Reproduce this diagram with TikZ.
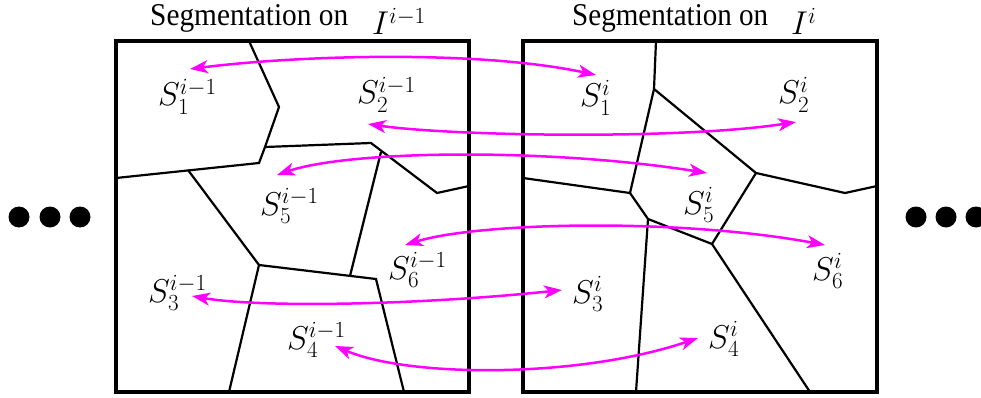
\RequirePackage{fix-cm}
\documentclass[tikz,border=0pt]{standalone}
\usepackage[no-math]{fontspec}
\setmainfont{Liberation Serif}
\usetikzlibrary{arrows.meta}
\definecolor{mag}{RGB}{255,0,255}
\tikzset{
  framebox/.style={draw=black, line width=3.2pt},
  segline/.style={draw=black, line width=2.2pt, line join=miter},
  seglabel/.style={anchor=base west, inner sep=0pt, font=\fontsize{33}{40}\selectfont},
  titletext/.style={anchor=base west, inner sep=0pt, font=\fontsize{31}{37}\selectfont},
  titlemath/.style={anchor=base west, inner sep=0pt, font=\fontsize{33}{40}\selectfont},
  magarrow/.style={draw=mag, line width=2.5pt,
    {Stealth[length=18pt,width=13pt,inset=5pt]}-{Stealth[length=18pt,width=13pt,inset=5pt]}},
  bigdot/.style={fill=black, circle, inner sep=0pt, minimum size=21pt}
}
\begin{document}
\begin{tikzpicture}[x=1pt,y=-1pt]
\useasboundingbox (0,0) rectangle (981,398);

% titles
\node[titletext] (t1) at (150,26) {\resizebox{198pt}{21pt}{Segmentation on}};
\node[titlemath] (t1m) at (372,35) {$I^{i-1}$};
\node[titletext] (t2) at (572,26) {\resizebox{196pt}{21pt}{Segmentation on}};
\node[titlemath] (t2m) at (791,35) {$I^{i}$};

% left segmentation
\draw[segline] (249,41) -- (279,107) -- (265,147) -- (259,163) -- (116,178);
\draw[segline] (265,147) -- (371,143) -- (437,193) -- (469,186);
\draw[segline] (188,170) -- (259,265);
\draw[segline] (381,152) -- (350,276);
\draw[segline] (229,392) -- (259,265) -- (376,279) -- (404,392);
\draw[framebox] (116,41) rectangle (469,392);

% right segmentation
\draw[segline] (656,41) -- (654,89) -- (630,193) -- (523,178);
\draw[segline] (654,89) -- (756,173) -- (845,193) -- (877,186);
\draw[segline] (630,193) -- (648,219) -- (712,244) -- (756,173);
\draw[segline] (648,219) -- (636,392);
\draw[segline] (712,244) -- (810,392);
\draw[framebox] (523,41) rectangle (877,392);

% labels left
\node[seglabel] (l1) at (158,106) {$S_1^{i-1}$};
\node[seglabel] (l2) at (357,104) {$S_2^{i-1}$};
\node[seglabel] (l5) at (260,215) {$S_5^{i-1}$};
\node[seglabel] (l6) at (388,279) {$S_6^{i-1}$};
\node[seglabel] (l3) at (148,302) {$S_3^{i-1}$};
\node[seglabel] (l4) at (287,349) {$S_4^{i-1}$};
% labels right
\node[seglabel] (r1) at (580,107) {$S_1^{i}$};
\node[seglabel] (r2) at (778,104) {$S_2^{i}$};
\node[seglabel] (r5) at (683,214) {$S_5^{i}$};
\node[seglabel] (r6) at (812,280) {$S_6^{i}$};
\node[seglabel] (r3) at (572,303) {$S_3^{i}$};
\node[seglabel] (r4) at (708,348) {$S_4^{i}$};

% arrow end points
\coordinate (a1l) at (190,69);  \coordinate (a1r) at (596,75);
\coordinate (a2l) at (368,124); \coordinate (a2r) at (796,122);
\coordinate (a3l) at (277,175); \coordinate (a3r) at (707,173);
\coordinate (a4l) at (405,245); \coordinate (a4r) at (825,245);
\coordinate (a5l) at (192,296); \coordinate (a5r) at (562,290);
\coordinate (a6l) at (335,346); \coordinate (a6r) at (698,338);

\draw[magarrow] (a1l) .. controls (300,55) and (480,50) .. (a1r);
\draw[magarrow] (a2l) .. controls (450,136) and (680,140) .. (a2r);
\draw[magarrow] (a3l) .. controls (350,150) and (550,148) .. (a3r);
\draw[magarrow] (a4l) .. controls (480,222) and (680,218) .. (a4r);
\draw[magarrow] (a5l) .. controls (260,308) and (420,305) .. (a5r);
\draw[magarrow] (a6l) .. controls (410,378) and (580,378) .. (a6r);

% dots
\node[bigdot] (d1) at (19,217) {};
\node[bigdot] (d2) at (50,217) {};
\node[bigdot] (d3) at (80,217) {};
\node[bigdot] (d4) at (916,217) {};
\node[bigdot] (d5) at (946,217) {};
\node[bigdot] (d6) at (976,217) {};
\end{tikzpicture}
\end{document}
